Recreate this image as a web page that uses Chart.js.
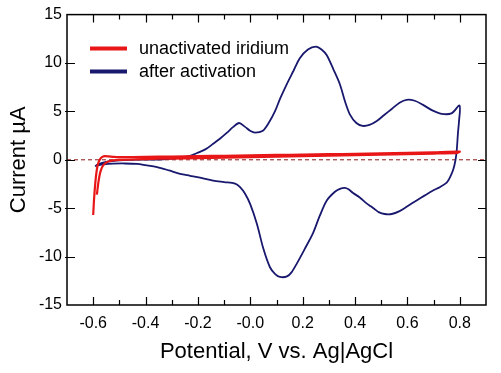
<!DOCTYPE html>
<html>
<head>
<meta charset="utf-8">
<script src="https://cdn.jsdelivr.net/npm/chart.js@4.4.1/dist/chart.umd.min.js"></script>
<style>
  html, body { margin: 0; padding: 0; background: #fff; }
  #wrap { width: 501px; height: 373px; }
</style>
</head>
<body>
<div id="wrap"><canvas id="myChart" width="501" height="373"></canvas></div>
<script>
// series names
var seriesNames = ['unactivated iridium', 'after activation'];

// unactivated iridium (red), potential V and current uA
var redV = [-0.600, -0.597, -0.592, -0.586, -0.580, -0.573, -0.565, -0.555, -0.540, -0.520, -0.500, -0.400, -0.300, -0.200, -0.100, 0.000, 0.100, 0.200, 0.300, 0.400, 0.500, 0.600, 0.700, 0.800,
            0.790, 0.700, 0.600, 0.500, 0.400, 0.300, 0.200, 0.100, 0.000, -0.100, -0.200, -0.300, -0.400, -0.500, -0.540, -0.560, -0.572, -0.580, -0.586];
var redI = [-5.70, -4.20, -2.40, -1.00, -0.30, 0.10, 0.30, 0.38, 0.35, 0.30, 0.28, 0.30, 0.34, 0.38, 0.42, 0.46, 0.50, 0.54, 0.58, 0.62, 0.66, 0.72, 0.78, 0.85,
            0.72, 0.64, 0.58, 0.52, 0.47, 0.42, 0.37, 0.32, 0.27, 0.22, 0.18, 0.13, 0.08, 0.00, -0.15, -0.50, -1.20, -2.30, -3.60];

// after activation (blue), potential V and current uA
var blueV = [-0.592, -0.584, -0.546, -0.500, -0.459, -0.400, -0.333, -0.268, -0.230, -0.203, -0.170, -0.142, -0.115, -0.089, -0.065, -0.043, -0.020, -0.001, 0.018, 0.048, 0.070, 0.094, 0.115, 0.139, 0.165, 0.189, 0.220, 0.250, 0.272, 0.292, 0.318, 0.342, 0.362, 0.380, 0.405, 0.429, 0.455, 0.483, 0.510, 0.540, 0.570, 0.597, 0.628, 0.658, 0.695, 0.730, 0.768, 0.799,
             0.797, 0.793, 0.788, 0.783, 0.775, 0.761, 0.750, 0.725, 0.696, 0.665, 0.635, 0.600, 0.570, 0.540, 0.513, 0.490, 0.475, 0.460, 0.444, 0.418, 0.391, 0.375, 0.361, 0.342, 0.323, 0.292, 0.265, 0.239, 0.208, 0.178, 0.158, 0.140, 0.113, 0.095, 0.075, 0.050, 0.025, 0.000, -0.020, -0.040, -0.058, -0.100, -0.142, -0.192, -0.230, -0.268, -0.310, -0.356, -0.400, -0.432, -0.480, -0.523, -0.560, -0.592];
var blueI = [-0.70, -0.50, -0.20, -0.05, 0.00, 0.02, 0.05, 0.20, 0.40, 0.70, 1.10, 1.65, 2.20, 2.80, 3.40, 3.80, 3.40, 3.00, 2.80, 3.00, 3.80, 5.00, 6.40, 7.80, 9.20, 10.50, 11.40, 11.70, 11.40, 10.80, 9.30, 7.80, 6.00, 4.70, 3.80, 3.50, 3.60, 4.00, 4.60, 5.25, 5.90, 6.20, 6.10, 5.70, 5.10, 4.75, 4.80, 5.60,
             4.00, 2.80, 0.90, -0.10, -1.00, -1.90, -2.35, -2.80, -3.20, -3.70, -4.20, -4.80, -5.30, -5.60, -5.60, -5.40, -5.10, -4.80, -4.50, -3.90, -3.40, -3.05, -2.90, -3.00, -3.30, -4.20, -5.80, -7.60, -9.20, -10.70, -11.60, -12.05, -12.10, -11.80, -11.10, -9.20, -6.60, -4.60, -3.50, -2.80, -2.45, -2.30, -2.15, -1.85, -1.65, -1.45, -1.10, -0.75, -0.55, -0.42, -0.38, -0.40, -0.48, -0.62];

// axis ticks
var xTickValues = [-0.6, -0.4, -0.2, 0, 0.2, 0.4, 0.6, 0.8];
var xTickLabels = ['-0.6', '-0.4', '-0.2', '-0.0', '0.2', '0.4', '0.6', '0.8'];
var xMinorTicks = [-0.5, -0.3, -0.1, 0.1, 0.3, 0.5, 0.7];
var yTickValues = [-15, -10, -5, 0, 5, 10, 15];
var yTickLabels = ['-15', '-10', '-5', '0', '5', '10', '15'];

var xMin = -0.7, xMax = 0.9, yMin = -15, yMax = 15;

function toPoints(xs, ys) {
    var pts = [];
    for (var i = 0; i < xs.length; i++) {
        pts.push({x: xs[i], y: ys[i]});
    }
    return pts;
}

var FONT = "'Liberation Sans', Arial, sans-serif";
var RED = 'rgb(232,22,22)';
var BLUE = 'rgb(24,24,110)';

// box, inward ticks on all four sides, and legend inside the plot
var framePlugin = {
    id: 'frame',
    afterDraw: function(chart) {
        var ctx = chart.ctx;
        var a = chart.chartArea;
        var xs = chart.scales.x, ys = chart.scales.y;
        ctx.save();
        ctx.strokeStyle = '#000';
        ctx.lineWidth = 1.5;
        ctx.strokeRect(a.left, a.top, a.right - a.left, a.bottom - a.top);

        ctx.lineWidth = 1.2;
        ctx.beginPath();
        xTickValues.forEach(function(v) {
            var px = Math.round(xs.getPixelForValue(v)) + 0.5;
            ctx.moveTo(px, a.bottom); ctx.lineTo(px, a.bottom - 8);
            ctx.moveTo(px, a.top); ctx.lineTo(px, a.top + 8);
        });
        xMinorTicks.forEach(function(v) {
            var px = Math.round(xs.getPixelForValue(v)) + 0.5;
            ctx.moveTo(px, a.bottom); ctx.lineTo(px, a.bottom - 5);
            ctx.moveTo(px, a.top); ctx.lineTo(px, a.top + 5);
        });
        yTickValues.forEach(function(v) {
            if (v === yMin || v === yMax) return;
            var py = Math.round(ys.getPixelForValue(v)) + 0.5;
            ctx.moveTo(a.left - 2, py); ctx.lineTo(a.left + 8, py);
            ctx.moveTo(a.right, py); ctx.lineTo(a.right - 8, py);
        });
        ctx.stroke();

        // legend
        var colors = [RED, BLUE];
        ctx.font = '18px ' + FONT;
        ctx.textBaseline = 'middle';
        ctx.fillStyle = '#000';
        for (var i = 0; i < seriesNames.length; i++) {
            var ly = a.top + 34 + i * 23;
            ctx.strokeStyle = colors[i];
            ctx.lineWidth = 4;
            ctx.beginPath();
            ctx.moveTo(a.left + 23, ly);
            ctx.lineTo(a.left + 60, ly);
            ctx.stroke();
            ctx.fillText(seriesNames[i], a.left + 72, ly);
        }
        ctx.restore();
    }
};

var ctx = document.getElementById('myChart').getContext('2d');
var myChart = new Chart(ctx, {
    type: 'scatter',
    data: {
        datasets: [
            {
                label: seriesNames[0],
                data: toPoints(redV, redI),
                showLine: true,
                borderColor: RED,
                borderWidth: 2.2,
                pointRadius: 0,
                tension: 0.2
            },
            {
                label: seriesNames[1],
                data: toPoints(blueV, blueI),
                showLine: true,
                borderColor: BLUE,
                borderWidth: 1.8,
                pointRadius: 0,
                tension: 0.3
            },
            {
                label: 'zero',
                data: [{x: xMin, y: 0}, {x: xMax, y: 0}],
                showLine: true,
                borderColor: 'rgb(140,20,20)',
                borderWidth: 1,
                borderDash: [4, 3],
                pointRadius: 0
            }
        ]
    },
    options: {
        responsive: false,
        animation: false,
        layout: { padding: { top: 13, right: 15, left: 0, bottom: 0 } },
        plugins: {
            legend: { display: false },
            tooltip: { enabled: false }
        },
        scales: {
            x: {
                type: 'linear',
                min: xMin,
                max: xMax,
                afterBuildTicks: function(scale) {
                    scale.ticks = xTickValues.map(function(v) { return {value: v}; });
                },
                afterFit: function(scale) { scale.height = 68; },
                grid: { display: false, drawTicks: false },
                border: { display: false },
                ticks: {
                    autoSkip: false,
                    maxRotation: 0,
                    padding: 9,
                    color: '#000',
                    font: { family: FONT, size: 16 },
                    callback: function(value, index) { return xTickLabels[index]; }
                },
                title: {
                    display: true,
                    text: 'Potential, V vs. Ag|AgCl',
                    color: '#000',
                    font: { family: FONT, size: 22 },
                    padding: { top: 0, bottom: 8 }
                }
            },
            y: {
                type: 'linear',
                min: yMin,
                max: yMax,
                afterBuildTicks: function(scale) {
                    scale.ticks = yTickValues.map(function(v) { return {value: v}; });
                },
                afterFit: function(scale) { scale.width = 67; },
                grid: { display: false, drawTicks: false },
                border: { display: false },
                ticks: {
                    autoSkip: false,
                    padding: 5,
                    color: '#000',
                    font: { family: FONT, size: 16 },
                    callback: function(value, index) { return yTickLabels[index]; }
                },
                title: {
                    display: true,
                    text: 'Current µA',
                    color: '#000',
                    font: { family: FONT, size: 22 },
                    padding: { top: 6, bottom: 0 }
                }
            }
        }
    },
    plugins: [framePlugin]
});
</script>
</body>
</html>
